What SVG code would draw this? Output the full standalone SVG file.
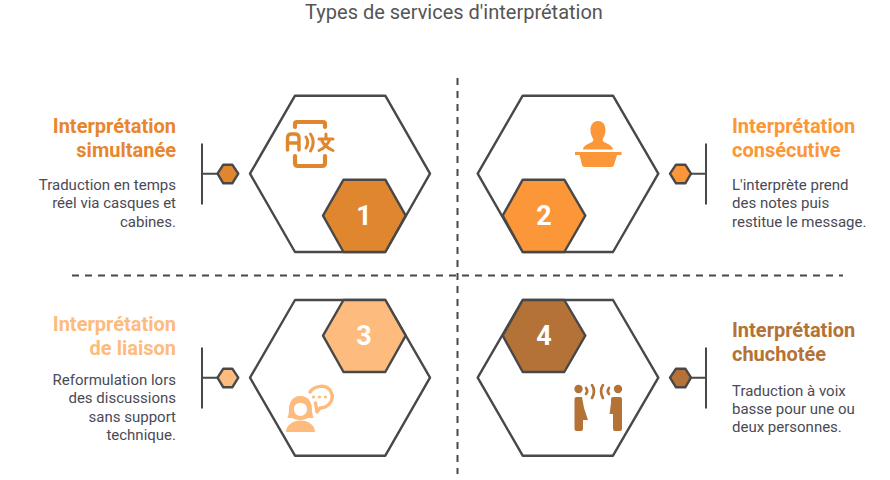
<svg xmlns="http://www.w3.org/2000/svg" width="890" height="480" viewBox="0 0 890 480">
<style>
text{font-family:Roboto,"Liberation Sans",sans-serif}
.title{font-size:20px;fill:#555;text-anchor:middle}
.h{font-size:20px;font-weight:700}
.b{font-size:15px;fill:#4a4a55}
.e{text-anchor:end}
.big{fill:#fff;stroke:#484848;stroke-width:2.4;stroke-linejoin:round}
.sm{stroke:#484848;stroke-width:2.4;stroke-linejoin:round}
.line{fill:none;stroke:#484848;stroke-width:2}
.dash{fill:none;stroke:#484848;stroke-width:2;stroke-dasharray:7 6}
.n{font-size:27px;font-weight:700;fill:#fff;text-anchor:middle}
.c1{fill:#df862f}.c2{fill:#fb9738}.c3{fill:#fdbb7d}.c4{fill:#b47236}
</style>
<rect width="890" height="480" fill="#fff"/>
<text class="title" x="454" y="19">Types de services d'interprétation</text>
<g id="connectors">
<path class="dash" d="M457.500 78V474M72 275.500H843"/>
<path class="line" d="M202 143.500V204.500M202 173.700H218M706 143.500V204.500M691 173.700H706M202 347.500V408.500M202 377.700H218M706 347.500V408.500M691 377.700H706"/>
</g>
<g id="node1">
<polygon class="big" points="250,173.700 295,95.700 385.300,95.700 430,173.700 385.300,252 295,252"/>
<polygon class="sm c1" points="323,215.700 343.500,179.700 385.300,179.700 405.700,215.700 385.300,252 343.500,252"/>
<text class="n" x="364" y="225">1</text>
<polygon class="sm c1" points="217.500,173.700 223.300,164.700 232.300,164.700 238.300,173.700 232.300,183.300 223.300,183.300"/>
<g fill="none" stroke="#df862f" stroke-width="3.400" stroke-linecap="round" stroke-linejoin="round">
<path d="M295 127V124Q295 122 297 122H323Q325 122 325 124V127" stroke-width="4.200"/>
<path d="M295 156V163Q295 166 298 166H322Q325 166 325 163V156" stroke-width="4.200"/>
<path d="M287.500 150V138Q287.500 134 291.500 134H295Q299 134 299 138V150M287.500 143H299"/>
<path d="M306 137Q309.500 142 306 148M310.500 134Q316 142 310.500 151" stroke-width="3"/>
<path d="M319 139H333M326 134V139M330 139Q327 147 319 150.500M322 141Q325 147 333 150.500" stroke-width="3"/>
</g>
<text class="h e" x="176" y="133" fill="#e8862d">Interprétation</text>
<text class="h e" x="176" y="157" fill="#e8862d">simultanée</text>
<text class="b e" x="176" y="190">Traduction en temps</text>
<text class="b e" x="176" y="208">réel via casques et</text>
<text class="b e" x="176" y="227">cabines.</text>
</g>
<g id="node2">
<polygon class="big" points="477.700,173.700 522.700,95.700 613,95.700 658.300,173.700 613,252 522.700,252"/>
<polygon class="sm c2" points="502.700,215.700 522.700,179.700 564.300,179.700 585.300,215.700 564.300,252 522.700,252"/>
<text class="n" x="544" y="225">2</text>
<polygon class="sm c2" points="670,173.700 676,164.700 685.300,164.700 691,173.700 685.300,183.300 676,183.300"/>
<g class="c2">
<path d="M598 121C603 121 605.500 125 605.500 130C605.500 135 603 138 602.500 140C603 143.500 613 144 613 149.500H583C583 144 593 143.500 593.500 140C593 138 590.500 135 590.500 130C590.500 125 593 121 598 121Z"/>
<path d="M575 152H621.500V155H617L614 165Q613.500 167 611.500 167H584.500Q582.500 167 582 165L579.500 155H575Z"/>
</g>
<text class="h" x="732" y="133" fill="#fb9738">Interprétation</text>
<text class="h" x="732" y="157" fill="#fb9738">consécutive</text>
<text class="b" x="732" y="190">L'interprète prend</text>
<text class="b" x="732" y="208">des notes puis</text>
<text class="b" x="732" y="227">restitue le message.</text>
</g>
<g id="node3">
<polygon class="big" points="250,377.700 295,300 385.300,300 430,377.700 385.300,455.700 295,455.700"/>
<polygon class="sm c3" points="323,335.700 343.500,300 385.300,300 405.700,335.700 385.300,372 343.500,372"/>
<text class="n" x="364" y="345">3</text>
<polygon class="sm c3" points="217.500,377.700 223.300,368.700 232.300,368.700 238.300,377.700 232.300,387.300 223.300,387.300"/>
<path class="c3" d="M300.500 396C292 396 289 403 289 409C289 414 288 417 287 418H292.500C295 420.500 305 420.500 308 418H314C313 417 312 414 312 409C312 403 309 396 300.500 396ZM300.500 403C304 403 307 405 307 409C307 413 304 416 300.500 416C297 416 294 413 294 409C294 405 297 403 300.500 403Z"/>
<path class="c3" d="M286 432C286 425 293 420.500 300.500 420.500C308 420.500 315 425 315 432Z"/>
<path d="M310 392C314 386 327 383 331 392C335 400 328 408 320 408L317 412L315.500 403" fill="none" stroke="#fdbb7d" stroke-width="3.400" stroke-linecap="round" stroke-linejoin="round"/>
<g class="c3"><circle cx="313.500" cy="397" r="1.600"/><circle cx="319.500" cy="397" r="1.600"/><circle cx="325.500" cy="397" r="1.600"/></g>
<text class="h e" x="176" y="331" fill="#fdbb7d">Interprétation</text>
<text class="h e" x="176" y="355" fill="#fdbb7d">de liaison</text>
<text class="b e" x="176" y="385">Reformulation lors</text>
<text class="b e" x="176" y="403">des discussions</text>
<text class="b e" x="176" y="422">sans support</text>
<text class="b e" x="176" y="440">technique.</text>
</g>
<g id="node4">
<polygon class="big" points="477.700,377.700 522.700,300 613,300 658.300,377.700 613,455.700 522.700,455.700"/>
<polygon class="sm c4" points="502.700,335.700 522.700,300 564.300,300 585.300,335.700 564.300,372 522.700,372"/>
<text class="n" x="544" y="345">4</text>
<polygon class="sm c4" points="670,377.700 676,368.700 685.300,368.700 691,377.700 685.300,387.300 676,387.300"/>
<g class="c4">
<circle cx="578.500" cy="389" r="4.200"/><circle cx="618" cy="389" r="4.200"/>
<path d="M574.500 399Q574.500 397 576.500 397H582L584 408L588 420H583V429Q583 431 581 431H576.500Q574.500 431 574.500 429Z"/>
<path d="M622 399Q622 397 620 397H613Q611 397 611 399V403L609.500 414H613V429Q613 431 615 431H620Q622 431 622 429Z"/>
</g>
<path d="M586 388Q588.500 391 586 394M592 385Q596 391 592 398M609 388Q606.500 391 609 394M603 385Q599 391 603 398" fill="none" stroke="#b47236" stroke-width="2.600" stroke-linecap="round"/>
<text class="h" x="732" y="337" fill="#b47236">Interprétation</text>
<text class="h" x="732" y="361" fill="#b47236">chuchotée</text>
<text class="b" x="732" y="396">Traduction à voix</text>
<text class="b" x="732" y="414">basse pour une ou</text>
<text class="b" x="732" y="432">deux personnes.</text>
</g>
</svg>
